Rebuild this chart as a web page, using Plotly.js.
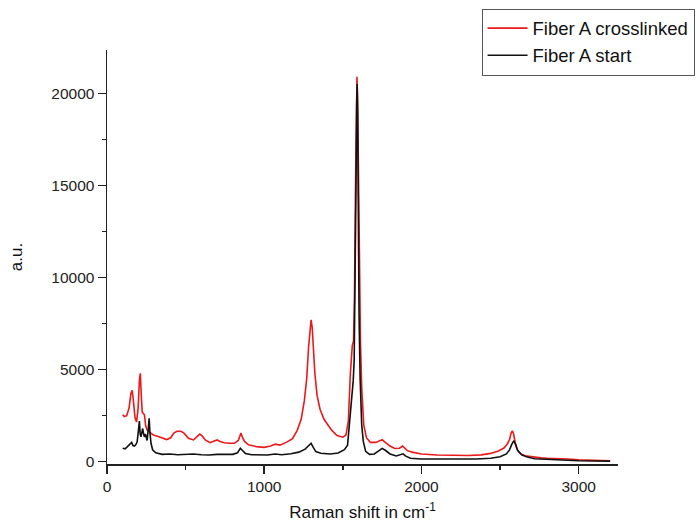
<!DOCTYPE html>
<html>
<head>
<meta charset="utf-8">
<script src="https://cdn.plot.ly/plotly-3.0.1.min.js"></script>
<style>html,body{margin:0;padding:0;background:#fff;}#chart{width:699px;height:525px;}</style>
</head>
<body>
<div id="chart"></div>
<script>
// Fiber A crosslinked (red)
const crossX = [100,110,125,140,152,160,168,178,188,198,206,212,218,224,232,238,246,256,270,295,330,380,405,425,445,470,490,518,550,575,590,605,625,655,680,700,720,745,780,810,835,852,862,875,900,950,1000,1040,1070,1100,1140,1180,1210,1235,1255,1270,1282,1292,1298,1305,1312,1322,1336,1355,1380,1400,1430,1463,1500,1520,1535,1548,1560,1568,1574,1580,1586,1590,1594,1600,1606,1612,1620,1633,1650,1675,1710,1735,1750,1770,1800,1830,1860,1880,1890,1910,1940,2000,2100,2200,2300,2380,2440,2490,2524,2545,2560,2570,2578,2586,2597,2610,2630,2660,2700,2760,2800,2870,2930,3000,3100,3200];
const crossY = [2550,2450,2500,2900,3700,3870,3300,2400,2150,2900,4400,4800,3600,2700,2600,2550,1950,1700,1600,1450,1350,1200,1300,1550,1650,1650,1550,1270,1180,1350,1500,1400,1180,1030,1100,1180,1100,1030,1000,1000,1150,1560,1300,1100,920,820,780,850,950,900,1050,1250,1700,2300,3300,4500,6200,7400,7700,7300,6100,4800,3600,2850,2300,2050,1700,1420,1330,1450,2200,4800,6300,6550,9000,14500,19500,20900,19500,14500,9500,6500,4000,2000,1300,1050,1050,1150,1200,1050,850,720,730,850,780,600,520,420,360,340,340,370,450,580,740,950,1200,1550,1680,1500,1000,650,420,320,260,210,190,190,150,100,70,50];

// Fiber A start (black)
const startX = [100,115,130,145,157,165,175,185,192,200,206,211,216,222,227,233,238,245,250,255,262,268,273,280,290,310,350,400,450,500,550,600,650,700,750,800,830,848,860,880,920,975,1020,1070,1110,1170,1220,1260,1282,1298,1310,1328,1360,1420,1470,1510,1530,1545,1558,1566,1572,1578,1583,1588,1591,1594,1598,1603,1610,1620,1630,1645,1670,1700,1730,1750,1770,1800,1840,1870,1883,1900,1930,2000,2200,2350,2440,2500,2540,2560,2575,2588,2600,2612,2640,2673,2720,2800,2900,3000,3200];
const startY = [730,700,820,950,1050,880,850,950,1100,1700,2200,1500,1350,1600,1800,1500,1350,1500,1250,1150,1700,2350,1600,1000,650,480,400,420,380,400,420,380,360,400,390,400,480,730,620,450,380,350,360,420,380,430,520,680,850,1000,800,550,460,420,470,650,900,2300,3800,4400,5500,9000,14500,19500,20500,19000,13500,8000,4500,2000,1100,560,400,420,600,720,620,420,310,380,430,300,190,150,130,150,190,270,420,640,950,1140,900,600,360,250,160,120,80,50,30];

const seriesNames = ["Fiber A crosslinked", "Fiber A start"];
const xTickVals = [0, 1000, 2000, 3000];
const yTickVals = [0, 5000, 10000, 15000, 20000];

const fontFam = "Arial, 'Liberation Sans', sans-serif";

const traces = [
  {x: crossX, y: crossY, type: 'scatter', mode: 'lines', name: seriesNames[0],
   line: {color: 'rgb(235,25,28)', width: 1.6}},
  {x: startX, y: startY, type: 'scatter', mode: 'lines', name: seriesNames[1],
   line: {color: '#111111', width: 1.6}}
];

const layout = {
  width: 699, height: 525,
  margin: {l: 107, r: 81, t: 50, b: 61, autoexpand: false},
  paper_bgcolor: '#ffffff', plot_bgcolor: '#ffffff',
  font: {family: fontFam, color: '#222'},
  showlegend: true,
  legend: {x: 0.733, y: 1.1, xanchor: 'left', yanchor: 'top',
    bgcolor: '#ffffff', bordercolor: '#555', borderwidth: 1,
    itemwidth: 40, tracegroupgap: 0,
    font: {family: fontFam, size: 18.5, color: '#111'}},
  xaxis: {
    range: [0, 3250], showgrid: false, zeroline: false,
    showline: true, linecolor: '#222', linewidth: 1.5,
    ticks: 'outside', ticklen: 8, tickwidth: 1.5, tickcolor: '#222',
    tickvals: xTickVals, ticktext: xTickVals.map(String),
    tickfont: {family: fontFam, size: 15.5, color: '#222'},
    minor: {dtick: 500, tick0: 0, ticks: 'outside', ticklen: 4, tickwidth: 1.5, tickcolor: '#222', showgrid: false},
    title: {text: 'Raman shift in cm<sup>-1</sup>', font: {family: fontFam, size: 17, color: '#111'}, standoff: 12}
  },
  yaxis: {
    range: [-125, 22350], showgrid: false, zeroline: false,
    showline: true, linecolor: '#222', linewidth: 1.5,
    ticks: 'outside', ticklen: 8, tickwidth: 1.5, tickcolor: '#222',
    tickvals: yTickVals, ticktext: yTickVals.map(String),
    tickfont: {family: fontFam, size: 15.5, color: '#222'},
    minor: {dtick: 2500, tick0: 0, ticks: 'outside', ticklen: 4, tickwidth: 1.5, tickcolor: '#222', showgrid: false},
    title: {text: 'a.u.', font: {family: fontFam, size: 17, color: '#111'}, standoff: 24}
  }
};

Plotly.newPlot('chart', traces, layout, {displayModeBar: false, staticPlot: true});
</script>
</body>
</html>
